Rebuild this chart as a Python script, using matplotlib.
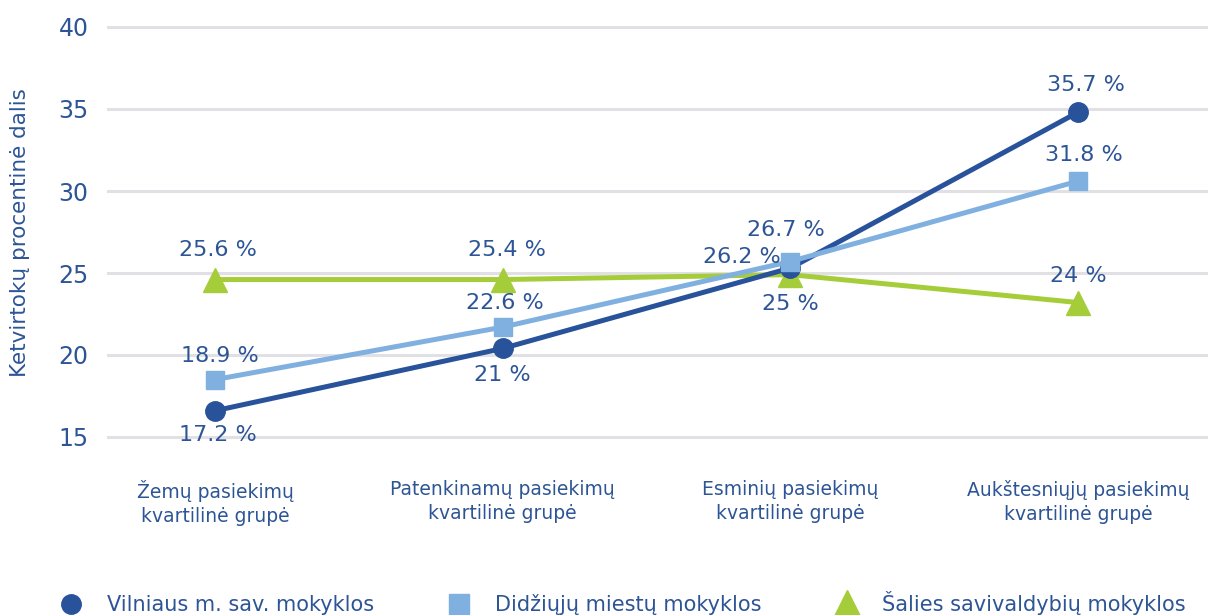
import matplotlib.pyplot as plt
from matplotlib.lines import Line2D

# categories and series (plotted positions, labels as printed)
categories = ["Žemų pasiekimų\nkvartilinė grupė", "Patenkinamų pasiekimų\nkvartilinė grupė",
              "Esminių pasiekimų\nkvartilinė grupė", "Aukštesniųjų pasiekimų\nkvartilinė grupė"]
series_names = ["Vilniaus m. sav. mokyklos", "Didžiųjų miestų mokyklos", "Šalies savivaldybių mokyklos"]

vilnius = [16.6, 20.4, 25.3, 34.8]
vilnius_labels = ["17.2 %", "21 %", "26.2 %", "35.7 %"]
didziuju = [18.5, 21.7, 25.7, 30.6]
didziuju_labels = ["18.9 %", "22.6 %", "26.7 %", "31.8 %"]
salies = [24.6, 24.6, 24.9, 23.2]
salies_labels = ["25.6 %", "25.4 %", "25 %", "24 %"]

yticks = [15, 20, 25, 30, 35, 40]

dark = "#28529A"
light = "#80B0E0"
green = "#A5CD39"
txt = "#2D5596"

plt.rcParams['font.family'] = ['DejaVu Sans']

fig = plt.figure(figsize=(12.08, 6.15), dpi=100)
ax = fig.add_axes([108/1208, 178/615, 1100/1208, 410/615])

x = list(range(len(categories)))

ax.plot(x, salies, color=green, lw=3.6, marker="^", ms=17, zorder=3)
ax.plot(x, vilnius, color=dark, lw=3.6, marker="o", ms=14, zorder=4)
ax.plot(x, didziuju, color=light, lw=3.6, marker="s", ms=13, zorder=5)

# label offsets in pixels (dx, dy)
v_off = [(3, -24), (0, -27), (-48, 11), (8, 27)]
d_off = [(5, 24), (2, 24), (-4, 32), (6, 26)]
s_off = [(3, 30), (4, 30), (0, -29), (0, 27)]

for vals, labs, offs in [(vilnius, vilnius_labels, v_off), (didziuju, didziuju_labels, d_off),
                         (salies, salies_labels, s_off)]:
    for i in range(len(vals)):
        ax.annotate(labs[i], (x[i], vals[i]), xytext=offs[i], textcoords="offset pixels",
                    ha="center", va="center", fontsize=16, color=txt, zorder=6)

ax.set_xlim(-0.372, 3.452)
ax.set_ylim(15, 40)
ax.set_yticks(yticks)
ax.set_xticks(x)
ax.set_xticklabels(categories, fontsize=13.5, color=txt, linespacing=1.3)
ax.tick_params(axis="x", length=0, pad=31)
ax.tick_params(axis="y", length=0, pad=14, labelsize=17, labelcolor=txt)
for s in ax.spines.values():
    s.set_visible(False)
for yv in yticks:
    ax.axhline(yv, color="#E1E1E5", lw=2.2, zorder=1, clip_on=False)

fig.text(20/1208, 1 - 233/615, "Ketvirtokų procentinė dalis", rotation=90, ha="center",
         va="center", fontsize=15.5, color=txt)

handles = [Line2D([], [], ls="none", marker="o", ms=14, color=dark),
           Line2D([], [], ls="none", marker="s", ms=14, color=light),
           Line2D([], [], ls="none", marker="^", ms=20, color=green)]
fig.legend(handles, series_names, loc="center", bbox_to_anchor=(618/1208, 1 - 603/615), ncol=3,
           frameon=False, fontsize=15, labelcolor=txt, columnspacing=3.1, handletextpad=0.7,
           borderaxespad=0, borderpad=0)

fig.savefig("out.png", dpi=100)
